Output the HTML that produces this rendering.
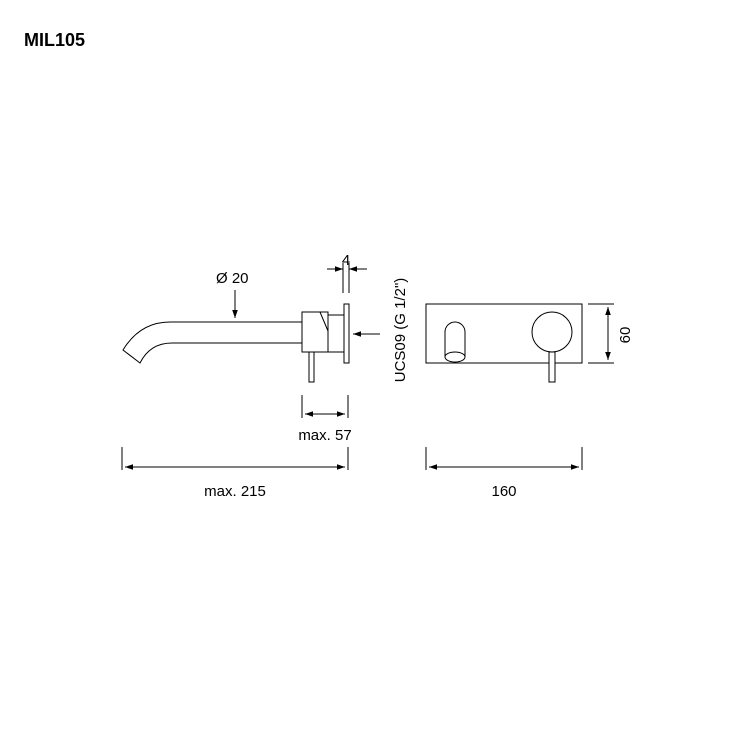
<!DOCTYPE html>
<html><head><style>body{margin:0;background:#fff}svg{display:block}</style></head><body>
<svg width="750" height="750" viewBox="0 0 750 750" xmlns="http://www.w3.org/2000/svg" font-family="Liberation Sans, sans-serif">
<defs><marker id="a" viewBox="0 0 10 10" refX="10" refY="5" markerWidth="8" markerHeight="8" orient="auto-start-reverse" markerUnits="userSpaceOnUse"><path d="M0,1.5 L10,5 L0,8.5Z" fill="#000"/></marker></defs>
<text x="24" y="46" font-size="18" font-weight="bold">MIL105</text>
<g fill="none" stroke="#000" stroke-width="1">
<!-- spout -->
<path d="M302,322 L170,322 Q140,322 123,350 L140,363 Q150,343 172,343 L302,343"/>
<rect x="302" y="312" width="26" height="40"/>
<path d="M320,312 L328,331"/>
<rect x="328" y="315" width="16" height="37"/>
<rect x="344" y="304" width="5" height="59"/>
<rect x="309" y="352" width="5" height="30"/>
<!-- dims left -->
<line x1="235" y1="290" x2="235" y2="318" marker-end="url(#a)"/>
<line x1="343" y1="263" x2="343" y2="293"/><line x1="349" y1="263" x2="349" y2="293"/>
<line x1="327" y1="269" x2="343" y2="269" marker-end="url(#a)"/>
<line x1="367" y1="269" x2="349" y2="269" marker-end="url(#a)"/>
<line x1="380" y1="334" x2="353" y2="334" marker-end="url(#a)"/>
<line x1="302" y1="395" x2="302" y2="418"/><line x1="348" y1="395" x2="348" y2="418"/>
<line x1="305" y1="414" x2="345" y2="414" marker-start="url(#a)" marker-end="url(#a)"/>
<line x1="122" y1="447" x2="122" y2="470"/><line x1="348" y1="447" x2="348" y2="470"/>
<line x1="125" y1="467" x2="345" y2="467" marker-start="url(#a)" marker-end="url(#a)"/>
<!-- front -->
<rect x="426" y="304" width="156" height="59"/>
<path d="M445,357 L445,332 A10,10 0 0 1 465,332 L465,357"/>
<ellipse cx="455" cy="357" rx="10" ry="5"/>
<circle cx="552" cy="332" r="20"/>
<rect x="549" y="352" width="6" height="30" fill="#fff"/>
<line x1="588" y1="304" x2="614" y2="304"/><line x1="588" y1="363" x2="614" y2="363"/>
<line x1="608" y1="307" x2="608" y2="360" marker-start="url(#a)" marker-end="url(#a)"/>
<line x1="426" y1="447" x2="426" y2="470"/><line x1="582" y1="447" x2="582" y2="470"/>
<line x1="429" y1="467" x2="579" y2="467" marker-start="url(#a)" marker-end="url(#a)"/>
</g>
<g font-size="15" fill="#000">
<text x="216" y="283">Ø 20</text>
<text x="346" y="265" text-anchor="middle">4</text>
<text x="325" y="440" text-anchor="middle">max. 57</text>
<text x="235" y="496" text-anchor="middle">max. 215</text>
<text x="504" y="496" text-anchor="middle">160</text>
<text transform="translate(630,335) rotate(-90)" text-anchor="middle">60</text>
<text transform="translate(405,330) rotate(-90)" text-anchor="middle">UCS09 (G 1/2")</text>
</g>
</svg>
</body></html>
